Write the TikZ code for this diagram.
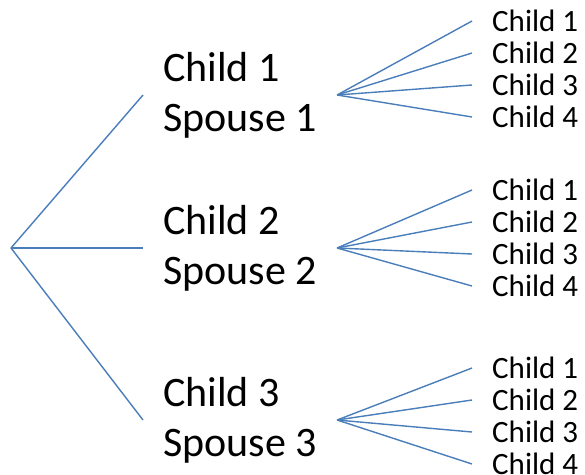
\documentclass[tikz,border=0pt]{standalone}
\usepackage{fontspec}
\setmainfont{Carlito}
\usetikzlibrary{positioning}
\definecolor{linkblue}{RGB}{74,126,187}
\tikzset{
  couple/.style={anchor=west, inner xsep=20pt, inner ysep=0pt, align=left, font=\fontsize{42}{50}\selectfont},
  kid/.style={anchor=west, inner xsep=20pt, inner ysep=0pt, font=\fontsize{31}{32}\selectfont},
  branch/.style={draw=linkblue, line width=1.4pt},
}
\begin{document}
\begin{tikzpicture}[x=1pt, y=-1pt]
  \useasboundingbox (0,0) rectangle (585,474);
  \coordinate (root) at (11,248);
  \node[couple] (couple1) at (143,95) {Child 1\\Spouse 1};
  \node[couple] (couple2) at (143,248) {Child 2\\Spouse 2};
  \node[couple] (couple3) at (143,420) {Child 3\\Spouse 3};

  \draw[branch] (root) -- (couple1.west);
  \draw[branch] (root) -- (couple2.west);
  \draw[branch] (root) -- (couple3.west);

  % grandchildren fans
  \foreach \c/\top in {1/21,2/190,3/368} {
    \foreach \k in {1,...,4} {
      \node[kid] (kid\c\k) at (472,{\top+32*(\k-1)}) {Child \k};
      \draw[branch] (couple\c.east) -- (kid\c\k.west);
    }
  }
\end{tikzpicture}
\end{document}
